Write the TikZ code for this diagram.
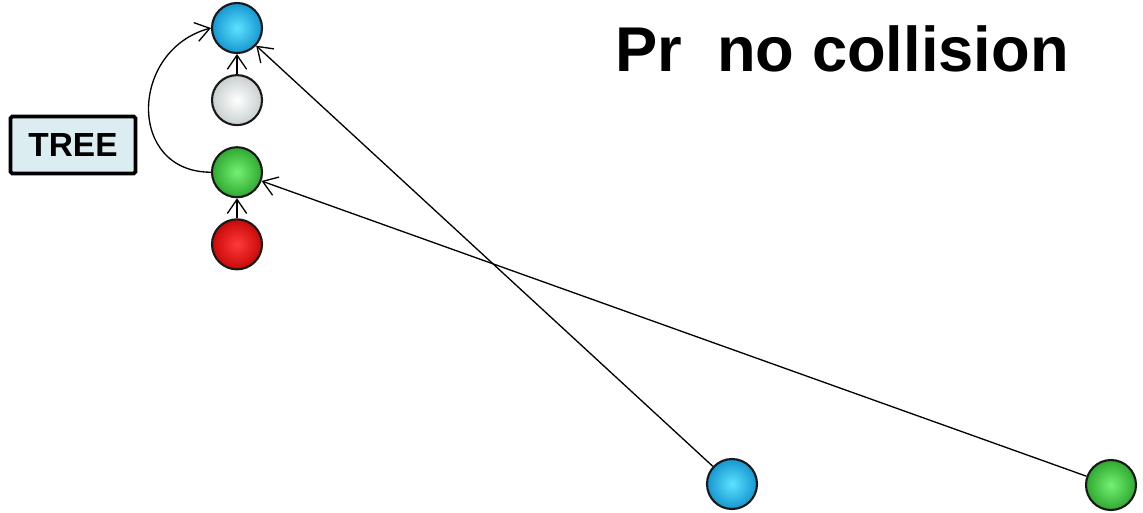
\documentclass[tikz,border=0pt]{standalone}
\usepackage{fontspec}
\setmainfont{Liberation Sans}
\usetikzlibrary{arrows.meta, positioning}

\definecolor{bluedark}{HTML}{1597D0}
\definecolor{bluelight}{HTML}{5EE2FF}
\definecolor{greendark}{HTML}{2FA82F}
\definecolor{greenlight}{HTML}{74F274}
\definecolor{reddark}{HTML}{C80808}
\definecolor{redlight}{HTML}{FF3A3A}
\definecolor{whitedark}{HTML}{C8CFCF}
\definecolor{treefill}{HTML}{DBEDF0}

\tikzset{
  ball/.style={circle, draw=black!90, line width=1.2pt, minimum size=1cm, inner sep=0pt},
  blueball/.style={ball, inner color=bluelight, outer color=bluedark},
  greenball/.style={ball, inner color=greenlight, outer color=greendark},
  redball/.style={ball, inner color=redlight, outer color=reddark},
  whiteball/.style={ball, inner color=white, outer color=whitedark},
  link/.style={->, line width=0.75pt}
}

\begin{document}
\begin{tikzpicture}[node distance=0.4cm, >={Straight Barb[length=8pt, width=11pt]}]
      \useasboundingbox (0,0) rectangle (22.86,-10.24);

      % Tree column
      \node [blueball] (topblue) at (4.74,-0.56) {};
      \node [whiteball, below=of topblue] (white) {};
      \node [greenball, below=of white] (topgreen) {};
      \node [redball, below=of topgreen] (red) {};

      % Label
      \node [draw, rectangle, rounded corners=1pt, line width=2.2pt, fill=treefill, minimum width=2.5cm, minimum height=1.14cm, font=\bfseries\fontsize{19}{22}\selectfont] (tree) at (1.46,-2.9) {TREE};

      % Title
      \node [font=\bfseries\fontsize{36}{40}\selectfont] (title) at (16.84,-0.98) {Pr\ \ no collision};

      % Incoming balls
      \node [blueball] (lowblue) at (14.64,-9.68) {};
      \node [greenball] (lowgreen) at (22.22,-9.7) {};

      % Arrows
      \draw [link] (white) -- (topblue);
      \draw [link] (red) -- (topgreen);
      \draw [link] (topgreen.west) to [out=180, in=195, looseness=1.5] (topblue.west);
      \draw [link] (lowblue) -- (topblue);
      \draw [link] (lowgreen) -- (topgreen);
    \end{tikzpicture}
\end{document}
